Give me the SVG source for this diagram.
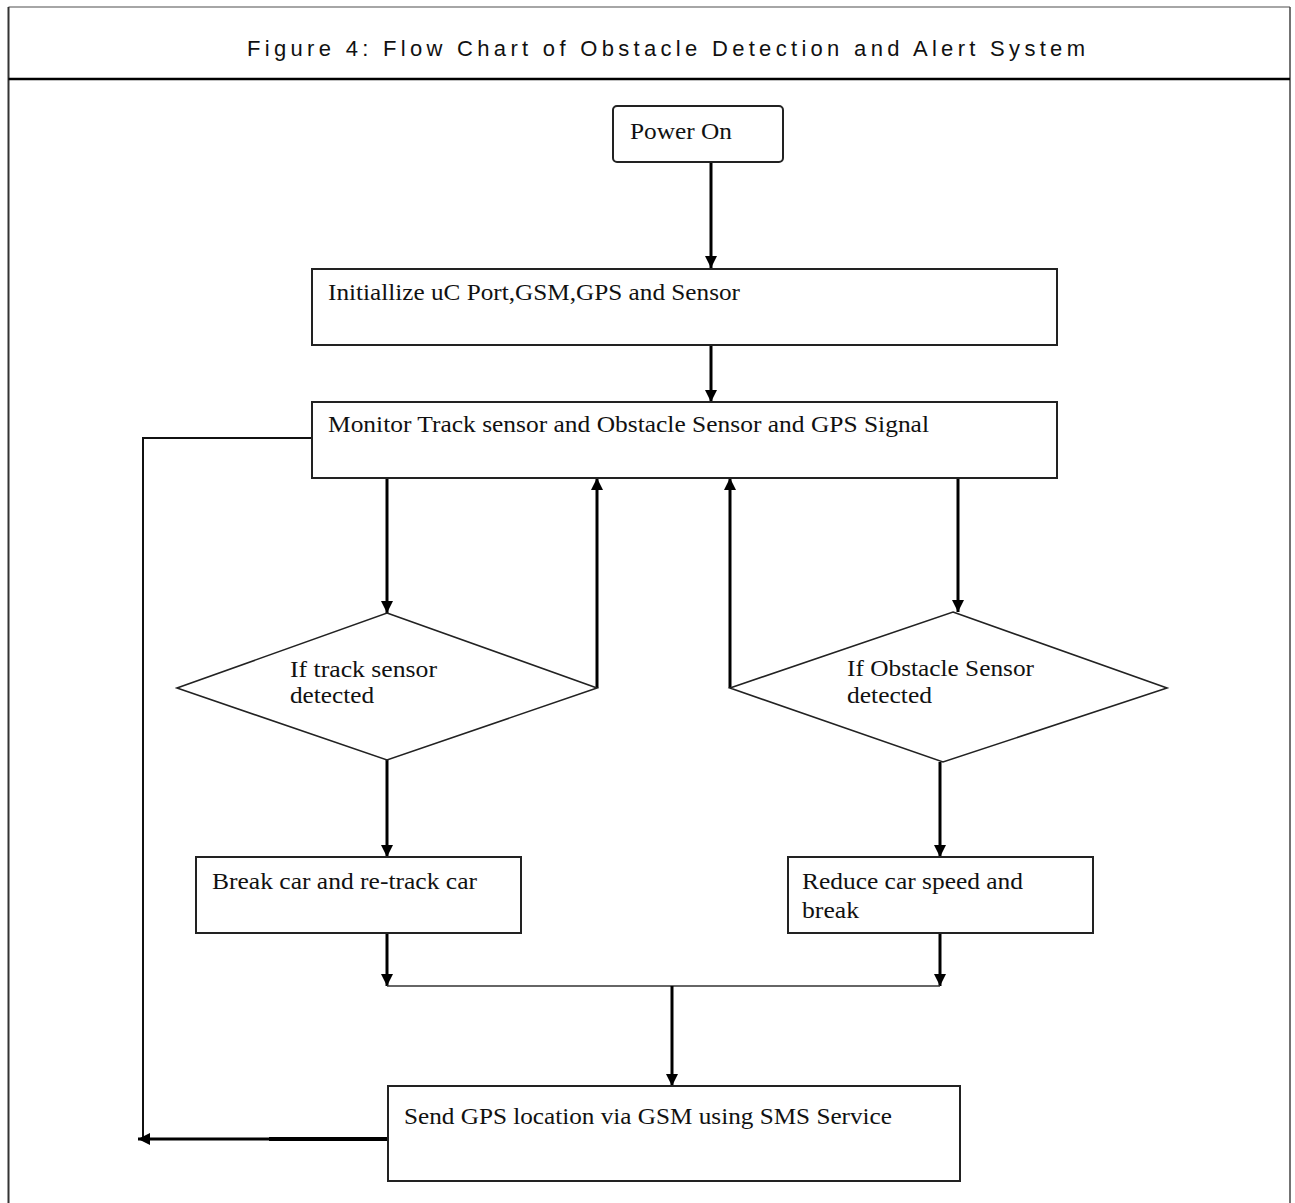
<svg xmlns="http://www.w3.org/2000/svg" width="1295" height="1203" viewBox="0 0 1295 1203">
<style>
.box{fill:#fff;stroke:#222;stroke-width:2}
.dia{fill:#fff;stroke:#222;stroke-width:1.6}
.t{font-family:"Liberation Serif","Times New Roman",serif;font-size:23px;fill:#111}
.c{fill:none;stroke:#000;stroke-width:3}
.thin{fill:none;stroke:#333;stroke-width:1.6}
.loop{fill:none;stroke:#111;stroke-width:2}
.title{font-family:"Liberation Sans",Arial,sans-serif;font-size:22px;fill:#111}
</style>
<defs>
<marker id="ah" viewBox="0 0 10 10" refX="10" refY="5" markerWidth="4.3" markerHeight="4" markerUnits="strokeWidth" orient="auto">
<path d="M0,0 L10,5 L0,10 z" fill="#000"/>
</marker>
</defs>
<rect x="0" y="0" width="1295" height="1203" fill="#fff"/>
<g id="frame">
<line x1="8.5" y1="7" x2="1290" y2="7" stroke="#888" stroke-width="1.5"/>
<line x1="8.5" y1="7" x2="8.5" y2="1203" stroke="#333" stroke-width="2"/>
<line x1="1290" y1="7" x2="1290" y2="1203" stroke="#444" stroke-width="1.5"/>
<line x1="8.5" y1="79" x2="1290" y2="79" stroke="#000" stroke-width="2.5"/>
<text class="title" x="247" y="56" textLength="838" lengthAdjust="spacing">Figure 4: Flow Chart of Obstacle Detection and Alert System</text>
</g>
<g id="connectors">
<line class="c" x1="711" y1="162" x2="711" y2="268" marker-end="url(#ah)"/>
<line class="c" x1="711" y1="345" x2="711" y2="402" marker-end="url(#ah)"/>
<polyline class="loop" points="311,438 143,438 143,1139"/>
<line class="c" x1="387" y1="478" x2="387" y2="613" marker-end="url(#ah)"/>
<polyline class="c" points="597,688 597,478" marker-end="url(#ah)"/>
<polyline class="c" points="730,688 730,478" marker-end="url(#ah)"/>
<line class="c" x1="958" y1="478" x2="958" y2="612" marker-end="url(#ah)"/>
<line class="c" x1="387" y1="760" x2="387" y2="857" marker-end="url(#ah)"/>
<line class="c" x1="940" y1="762" x2="940" y2="857" marker-end="url(#ah)"/>
<line class="c" x1="387" y1="933" x2="387" y2="986" marker-end="url(#ah)"/>
<line class="c" x1="940" y1="933" x2="940" y2="986" marker-end="url(#ah)"/>
<line class="thin" x1="387" y1="986" x2="940" y2="986"/>
<line class="c" x1="672" y1="986" x2="672" y2="1086" marker-end="url(#ah)"/>
<line x1="388" y1="1139" x2="269" y2="1139" stroke="#000" stroke-width="4"/>
<line class="c" x1="270" y1="1139" x2="138" y2="1139" marker-end="url(#ah)"/>
</g>
<g id="power-on">
<rect class="box" x="613" y="106" width="170" height="56" rx="4"/>
<text class="t" x="630" y="139" textLength="102" lengthAdjust="spacingAndGlyphs">Power On</text>
</g>
<g id="init">
<rect class="box" x="312" y="269" width="745" height="76"/>
<text class="t" x="328" y="300" textLength="412" lengthAdjust="spacingAndGlyphs">Initiallize uC Port,GSM,GPS and Sensor</text>
</g>
<g id="monitor">
<rect class="box" x="312" y="402" width="745" height="76"/>
<text class="t" x="328" y="432" textLength="601" lengthAdjust="spacingAndGlyphs">Monitor Track sensor and Obstacle Sensor and GPS Signal</text>
</g>
<g id="track-decision">
<polygon class="dia" points="387,613 597,688 387,760 177,688"/>
<text class="t" x="290" y="677" textLength="147" lengthAdjust="spacingAndGlyphs">If track sensor</text>
<text class="t" x="290" y="703" textLength="84" lengthAdjust="spacingAndGlyphs">detected</text>
</g>
<g id="obstacle-decision">
<polygon class="dia" points="953,612 1167,688 943,762 730,688"/>
<text class="t" x="847" y="676" textLength="187" lengthAdjust="spacingAndGlyphs">If Obstacle Sensor</text>
<text class="t" x="847" y="703" textLength="85" lengthAdjust="spacingAndGlyphs">detected</text>
</g>
<g id="break-car">
<rect class="box" x="196" y="857" width="325" height="76"/>
<text class="t" x="212" y="889" textLength="265" lengthAdjust="spacingAndGlyphs">Break car and re-track car</text>
</g>
<g id="reduce-speed">
<rect class="box" x="788" y="857" width="305" height="76"/>
<text class="t" x="802" y="889" textLength="221" lengthAdjust="spacingAndGlyphs">Reduce car speed and</text>
<text class="t" x="802" y="918" textLength="57" lengthAdjust="spacingAndGlyphs">break</text>
</g>
<g id="send-gps">
<rect class="box" x="388" y="1086" width="572" height="95"/>
<text class="t" x="404" y="1124" textLength="488" lengthAdjust="spacingAndGlyphs">Send GPS location via GSM using SMS Service</text>
</g>
</svg>
